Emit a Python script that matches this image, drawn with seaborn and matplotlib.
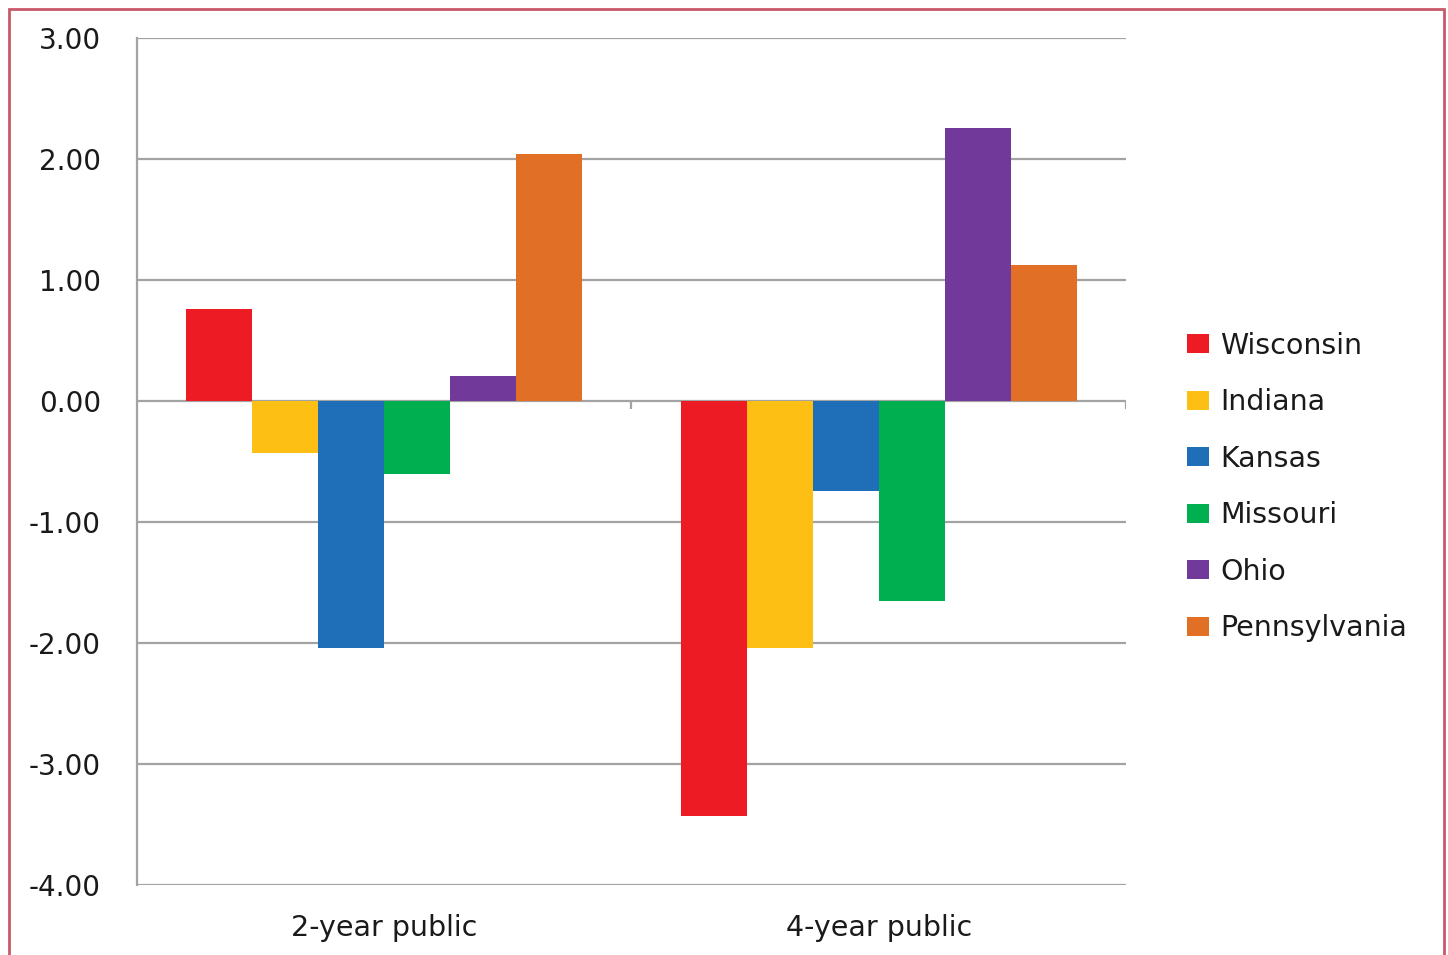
import matplotlib
matplotlib.use("Agg")
import matplotlib.pyplot as plt
import pandas as pd
import seaborn as sns
from matplotlib.patches import Rectangle

categories = ["2-year public", "4-year public"]
states = ["Wisconsin", "Indiana", "Kansas", "Missouri", "Ohio", "Pennsylvania"]
two_year = [0.76, -0.43, -2.04, -0.60, 0.21, 2.04]
four_year = [-3.43, -2.04, -0.74, -1.65, 2.26, 1.12]
y_ticks = [3, 2, 1, 0, -1, -2, -3, -4]
colors = ["#ED1C24", "#FDBF13", "#1F6FB8", "#00B050", "#70399A", "#E26F26"]

rows = []
for s, a, b in zip(states, two_year, four_year):
    rows.append({"category": categories[0], "state": s, "value": a})
    rows.append({"category": categories[1], "state": s, "value": b})
df = pd.DataFrame(rows)

sns.set_style("white")
plt.rcParams['font.family'] = ['DejaVu Sans']
plt.rcParams['font.sans-serif'] = ['DejaVu Sans']

fig = plt.figure(figsize=(14.48, 9.55), dpi=100)
ax = fig.add_axes([0.0946, 0.0733, 0.683, 0.8869])

grid_color = "#a3a3a3"
sns.barplot(data=df, x="category", y="value", hue="state", order=categories,
            hue_order=states, palette=colors, width=0.8, saturation=1,
            linewidth=0, ax=ax, zorder=3)

ax.set_xlim(-0.5, 1.5)
ax.set_ylim(-4, 3)
ax.set_yticks(y_ticks)
ax.set_yticklabels([f"{v:.2f}" for v in y_ticks])
for v in y_ticks:
    ax.axhline(v, color=grid_color, linewidth=1.6, zorder=1)

# category boundary ticks on the zero line
ax.vlines([0.5, 1.5], -0.07, 0, color=grid_color, linewidth=1.6, zorder=1)

for side in ["top", "right", "bottom"]:
    ax.spines[side].set_visible(False)
ax.spines["left"].set_color(grid_color)
ax.spines["left"].set_linewidth(1.6)

ax.tick_params(axis="y", length=8, width=1.6, color=grid_color, labelsize=20, pad=18, labelcolor="#1a1a1a")
ax.tick_params(axis="x", length=0, labelsize=20.5, pad=21, labelcolor="#1a1a1a")
ax.set_xlabel("")
ax.set_ylabel("")

handles, labels = ax.get_legend_handles_labels()
ax.legend(handles, labels, loc="center left", bbox_to_anchor=(0.802, 0.49),
          bbox_transform=fig.transFigure, frameon=False, fontsize=20.5,
          handlelength=0.78, handleheight=0.65, handletextpad=0.38,
          labelspacing=1.0, labelcolor="#1a1a1a")

fig.patches.append(Rectangle((0.006, -0.02), 0.991, 1.011, transform=fig.transFigure,
                             fill=False, edgecolor="#c8596a", linewidth=2))

fig.savefig("out.png", dpi=100)
